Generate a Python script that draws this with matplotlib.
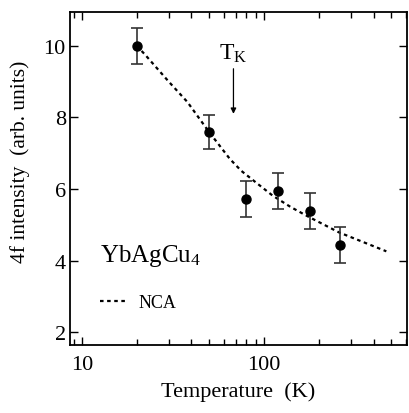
import numpy as np
import matplotlib.pyplot as plt

plt.rcParams['font.family'] = ['Liberation Serif', 'DejaVu Serif']
plt.rcParams['mathtext.fontset'] = 'custom'
plt.rcParams['mathtext.rm'] = 'Liberation Serif'
plt.rcParams['mathtext.it'] = 'Liberation Serif:italic'

# measured 4f intensity vs temperature
temp = [20, 50, 80, 120, 180, 260]
intensity = [10.0, 7.6, 5.72, 5.95, 5.38, 4.43]
err = [0.5, 0.48, 0.5, 0.5, 0.5, 0.5]

# NCA calculation
nca_temp = [20, 22, 30, 38, 50, 65, 75, 90, 112, 140, 172, 258, 470]
nca_int = [10.0, 9.78, 9.0, 8.43, 7.59, 6.84, 6.51, 6.19, 5.81, 5.5, 5.25, 4.79, 4.26]

t_kondo = 68

fig = plt.figure(figsize=(4.09, 4.14), dpi=100)
ax = fig.add_axes([0.171, 0.164, 0.824, 0.805])

ax.plot(nca_temp, nca_int, color='black', lw=1.6, ls=(0, (1.6, 1.6)), label='NCA')
ax.errorbar(temp, intensity, yerr=err, fmt='o', color='black', ms=6.5,
            ecolor='#333333', elinewidth=1.2, capsize=4, capthick=1.2)

ax.set_xscale('log')
ax.set_xlim(8.6, 610)
ax.set_ylim(1.64, 10.95)
ax.set_yticks([2, 4, 6, 8, 10])
ax.set_xticks([10, 100])
ax.set_xticklabels(['10', '100'])
ax.tick_params(which='both', direction='in', top=True, right=True, labelsize=16)
ax.tick_params(which='major', length=6, width=1)
ax.tick_params(which='minor', length=4, width=1)
ax.tick_params(axis='x', pad=7)
ax.tick_params(axis='y', pad=3)
for s in ax.spines.values():
    s.set_linewidth(1.3)

ax.set_xlabel('Temperature  (K)', fontsize=16, labelpad=5)
ax.set_ylabel('4f intensity  (arb. units)', fontsize=15.5, labelpad=5)
ax.yaxis.set_label_coords(-0.118, 0.553)

ax.text(0.09, 0.252, 'YbAgCu$_4$', transform=ax.transAxes, fontsize=18,
        ha='left', va='baseline')
ax.text(t_kondo, 9.64, 'T$_\\mathrm{K}$', fontsize=17, ha='center', va='baseline')
ax.annotate('', xy=(t_kondo, 8.1), xytext=(t_kondo, 9.36),
            arrowprops=dict(arrowstyle='-|>', color='black', lw=0.9,
                            mutation_scale=8, shrinkA=0, shrinkB=0))

ax.legend(loc='center left', bbox_to_anchor=(0.09, 0.128), frameon=False,
          fontsize=13, handlelength=1.5, handletextpad=0.6, borderaxespad=0,
          borderpad=0)

fig.savefig('out.png', dpi=100)
